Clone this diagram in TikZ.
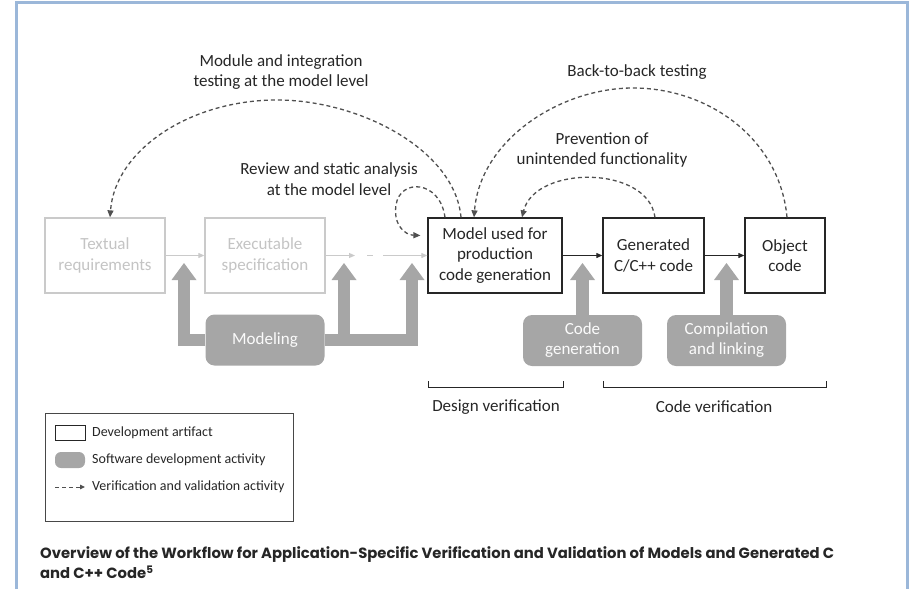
\documentclass[tikz,border=0pt]{standalone}
\usepackage{fontspec}
\setmainfont{Carlito}
\newfontfamily\capfont{Poppins}
\usetikzlibrary{arrows.meta}
\definecolor{actgray}{HTML}{A6A6A6}
\definecolor{ghost}{HTML}{CACACA}
\definecolor{ghosttext}{HTML}{C4C4C4}
\definecolor{vvline}{HTML}{505050}
\definecolor{frameblue}{HTML}{9BB7D9}
\definecolor{ink}{HTML}{262626}

\begin{document}
\begin{tikzpicture}[x=1pt,y=-1pt,
  lbl/.style={font=\fontsize{17}{20.5}\selectfont, text=ink, align=center, inner sep=0},
  artifact/.style={draw=ink, line width=1.3pt, fill=white, minimum height=75pt, align=center,
    font=\fontsize{17}{20.5}\selectfont, text=ink, inner sep=0},
  ghostbox/.style={artifact, draw=ghost, text=ghosttext},
  activity/.style={fill=actgray, rounded corners=9pt, minimum width=119pt, minimum height=51pt,
    align=center, text=white!95!actgray, font=\fontsize{17}{20}\selectfont, inner sep=0},
  push/.style={draw=actgray, line width=12.5pt, line join=miter,
    -{Triangle[length=17pt,width=25pt,line width=0pt]}},
  flow/.style={draw=ink, line width=1pt, -{Triangle[length=6pt,width=5pt]}},
  ghostflow/.style={draw=ghost, line width=1pt, -{Triangle[length=6pt,width=5pt]}},
  vv/.style={draw=vvline, line width=1.3pt, dash pattern=on 4pt off 3pt,
    -{Triangle[length=7pt,width=6pt]}},
  bracket/.style={draw=ink, line width=1pt},
  legtext/.style={font=\fontsize{14}{16}\selectfont, text=ink, anchor=west, inner sep=0}
]
\useasboundingbox (0,0) rectangle (910,589);

% page frame
\draw[frameblue, line width=2.5pt] (16.5,589) -- (16.5,2.5) -- (907.5,2.5) -- (907.5,589);

% development artifacts
\node[ghostbox, minimum width=120pt] (req) at (105,255.5) {Textual\\requirements};
\node[ghostbox, minimum width=120pt] (spec) at (265,255.5) {Executable\\specification};
\node[artifact, minimum width=134pt] (model) at (495,255.5) {Model used for\\production\\code generation};
\node[artifact, minimum width=101pt] (gen) at (653.5,255.5) {Generated\\C/C++ code};
\node[artifact, minimum width=80pt] (obj) at (785,255.5) {Object\\code};

% artifact flow
\coordinate (s1) at (355,255.5);
\coordinate (s2a) at (367,255.5);
\coordinate (s2b) at (373,255.5);
\coordinate (s3) at (383,255.5);
\draw[ghostflow] (req) -- (spec);
\draw[ghostflow] (spec) -- (s1);
\draw[ghost, line width=1pt] (s2a) -- (s2b);
\draw[ghostflow] (s3) -- (model);
\draw[flow] (model) -- (gen);
\draw[flow] (gen) -- (obj);

% software development activities
\node[activity] (modl) at (265,340) {Modeling};
\node[activity] (cgen) at (582.5,340.5) {Code\\generation};
\node[activity] (comp) at (726.5,340.5) {Compilation\\and linking};
\coordinate (p1) at (184,263);
\coordinate (p2) at (344,263);
\coordinate (p3) at (412,263);
\coordinate (p4) at (582.5,263);
\coordinate (p5) at (726.5,263);
\draw[push] (modl.west) -| (p1);
\draw[push] (modl.east) -| (p2);
\draw[push] (modl.east) -| (p3);
\draw[push] (cgen.north) -- (p4);
\draw[push] (comp.north) -- (p5);

% verification and validation activities
\draw[vv] ([xshift=-34pt]model.north) .. controls (455,150) and (360,100) .. (277,100)
  .. controls (190,100) and (115,150) .. ([xshift=5pt]req.north);
\draw[vv] ([xshift=2pt]obj.north) .. controls (780,140) and (710,88) .. (633,88)
  .. controls (560,88) and (480,140) .. ([xshift=-21pt]model.north);
\draw[vv] ([xshift=1.5pt]gen.north) .. controls (648,165) and (535,165) .. ([xshift=27pt]model.north);
\draw[vv] ([xshift=-50pt]model.north) .. controls (440,180) and (400,178) .. (396,205)
  .. controls (393,225) and (405,235) .. ([xshift=-7pt,yshift=20pt]model.west);

\node[lbl] (lmod) at (281,72) {Module and integration\\testing at the model level};
\node[lbl] (lb2b) at (637,72) {Back-to-back testing};
\node[lbl] (lprev) at (602,150) {Prevention of\\unintended functionality};
\node[lbl] (lrev) at (329,179) {Review and static analysis\\at the model level};

% verification scopes
\draw[bracket] (428,381) -- (428,387) -- (563,387) -- (563,381);
\draw[bracket] (603,381) -- (603,387) -- (826,387) -- (826,381);
\node[lbl] (ldes) at (496,407) {Design verification};
\node[lbl] (lcode) at (714,407) {Code verification};

% legend
\node[draw=ink!85, line width=1pt, minimum width=248pt, minimum height=108pt, inner sep=0] (legend) at (169,467) {};
\node[draw=ink, line width=1pt, minimum width=30pt, minimum height=15pt, inner sep=0] (kart) at (70,432.5) {};
\node[fill=actgray, rounded corners=6pt, minimum width=30pt, minimum height=16pt, inner sep=0] (kact) at (70,460) {};
\coordinate (kv1) at (55,487);
\coordinate (kv2) at (85,487);
\draw[vv, line width=1pt, -{Triangle[length=5pt,width=4.5pt]}] (kv1) -- (kv2);
\node[legtext] (tart) at (92,433) {Development artifact};
\node[legtext] (tact) at (92,460) {Software development activity};
\node[legtext] (tvv) at (92,487) {Verification and validation activity};

% caption
\node[anchor=west, inner sep=0, align=left, text=ink,
  font=\capfont\bfseries\fontsize{14.8}{20}\selectfont] (cap) at (40,563)
  {Overview of the Workflow for Application-Specific Verification and Validation of Models and Generated C\\
   and C++ Code\textsuperscript{5}};
\end{tikzpicture}
\end{document}
